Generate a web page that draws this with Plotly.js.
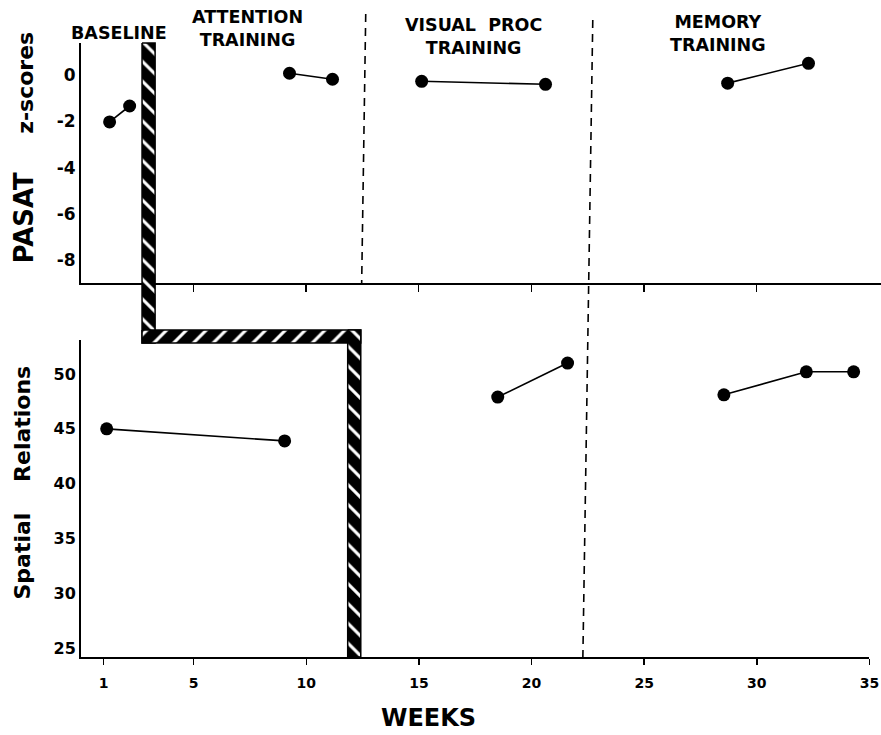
<!DOCTYPE html>
<html>
<head>
<meta charset="utf-8">
<script src="https://cdn.plot.ly/plotly-3.0.1.min.js"></script>
<style>
  html, body { margin: 0; padding: 0; background: #fff; }
  #chart { width: 881px; height: 735px; }
</style>
</head>
<body>
<div id="chart"></div>
<script>
// ---- PASAT z-scores, one pair of arrays per training phase ----
const pasatBaselineWeeks  = [1.27, 2.16];
const pasatBaselineZ      = [-2.02, -1.33];
const pasatAttentionWeeks = [9.26, 11.17];
const pasatAttentionZ     = [0.09, -0.17];
const pasatVisualWeeks    = [15.13, 20.63];
const pasatVisualZ        = [-0.26, -0.39];
const pasatMemoryWeeks    = [28.72, 32.31];
const pasatMemoryZ        = [-0.34, 0.52];

// ---- Spatial Relations scores ----
const spatialBaselineWeeks  = [1.14, 9.04];
const spatialBaselineScores = [45.0, 43.9];
const spatialVisualWeeks    = [18.5, 21.6];
const spatialVisualScores   = [47.9, 51.0];
const spatialMemoryWeeks    = [28.54, 32.2, 34.3];
const spatialMemoryScores   = [48.1, 50.2, 50.2];

// ---- tick values ----
const weekTicks    = [1, 5, 10, 15, 20, 25, 30, 35];
const topWeekTicks = [5, 10, 15, 20, 25, 30];
const pasatTicks   = [0, -2, -4, -6, -8];
const spatialTicks = [25, 30, 35, 40, 45, 50];

// ---- phase headings ----
const phaseNames = ['BASELINE', 'ATTENTION<br>TRAINING', 'VISUAL&nbsp;&nbsp;PROC<br>TRAINING', 'MEMORY<br>TRAINING'];
const phaseLabelWeeks = [1.67, 7.4, 17.44, 28.3];

// week where treatment begins for each measure (multiple-baseline step)
const treatmentStartWeeks = [3.0, 12.13];
// dashed phase boundaries: week at the top and at the bottom of each line
const phaseBoundaryTop    = [12.64, 22.72];
const phaseBoundaryBottom = [12.46, 22.28];

// ---- geometry ----
const W = 881, H = 735;
const topDomainY    = [1 - 283 / H, 1 - 43 / H];
const bottomDomainY = [1 - 657 / H, 1 - 340 / H];
const bottomDomainX = [0, 0.9855];
const stepY = 1 - 336.5 / H;        // level of the horizontal step between panels
const halfW = 0.29;                 // half thickness of the step band, in weeks
const halfH = 6.5 / H;              // half thickness of the step band, in paper units
const boundaryTopY = [1 - 14 / H, 1 - 20 / H];
const boundaryBottomY = [1 - 283 / H, 1 - 657 / H];
const labelY = [1 - 32.5 / H, 1 - 28.5 / H, 1 - 36 / H, 1 - 34 / H];

const FONT = 'DejaVu Sans, Arial, sans-serif';

function segment(x, y, xa, ya) {
  return {
    x: x, y: y, xaxis: xa, yaxis: ya,
    type: 'scatter', mode: 'lines+markers',
    line: { color: '#000', width: 1.6 },
    marker: { color: '#000', size: 13 },
    showlegend: false, hoverinfo: 'x+y', cliponaxis: false
  };
}

function band(x, y, shape) {
  return {
    x: x, y: y, xaxis: 'x3', yaxis: 'y3',
    type: 'scatter', mode: 'lines', fill: 'toself',
    fillcolor: '#000',
    fillpattern: { shape: shape, bgcolor: '#000', fgcolor: '#fff', size: 14, solidity: 0.22, fillmode: 'replace' },
    line: { color: '#000', width: 1.5 },
    showlegend: false, hoverinfo: 'skip'
  };
}

function boundary(i) {
  return {
    x: [phaseBoundaryTop[i], phaseBoundaryBottom[i]], y: [boundaryTopY[i], boundaryBottomY[i]],
    xaxis: 'x3', yaxis: 'y3', type: 'scatter', mode: 'lines',
    line: { color: '#000', width: 1.6, dash: '8px,6px' }, showlegend: false, hoverinfo: 'skip'
  };
}

const s0 = treatmentStartWeeks[0], s1 = treatmentStartWeeks[1];
const yTop = topDomainY[1], yBot = bottomDomainY[0];

const traces = [
  // top panel: PASAT
  segment(pasatBaselineWeeks, pasatBaselineZ, 'x2', 'y2'),
  segment(pasatAttentionWeeks, pasatAttentionZ, 'x2', 'y2'),
  segment(pasatVisualWeeks, pasatVisualZ, 'x2', 'y2'),
  segment(pasatMemoryWeeks, pasatMemoryZ, 'x2', 'y2'),
  // bottom panel: Spatial Relations
  segment(spatialBaselineWeeks, spatialBaselineScores, 'x', 'y'),
  segment(spatialVisualWeeks, spatialVisualScores, 'x', 'y'),
  segment(spatialMemoryWeeks, spatialMemoryScores, 'x', 'y'),
  // hatched multiple-baseline staircase
  band([s0 - halfW, s0 + halfW, s0 + halfW, s0 - halfW, s0 - halfW],
       [yTop, yTop, stepY - halfH, stepY - halfH, yTop], '\\'),
  band([s0 - halfW, s1 + halfW, s1 + halfW, s0 - halfW, s0 - halfW],
       [stepY + halfH, stepY + halfH, stepY - halfH, stepY - halfH, stepY + halfH], '/'),
  band([s1 - halfW, s1 + halfW, s1 + halfW, s1 - halfW, s1 - halfW],
       [stepY + halfH, stepY + halfH, yBot, yBot, stepY + halfH], '\\'),
  // dashed phase boundaries
  boundary(0),
  boundary(1)
];

const tickFont = (size) => ({ family: FONT, size: size, color: '#000', weight: 'bold' });

const annotations = phaseNames.map((t, i) => ({
  text: t, xref: 'x2', yref: 'paper', x: phaseLabelWeeks[i], y: labelY[i],
  xanchor: 'center', yanchor: 'middle', showarrow: false,
  font: { family: FONT, size: 17.5, color: '#000', weight: 'bold' }
}));

annotations.push(
  {
    text: '<span style="font-size:26px">PASAT</span>&nbsp;&nbsp;&nbsp;&nbsp;&nbsp;z-scores',
    xref: 'paper', yref: 'paper', x: (23 - 81) / 800, y: 1 - 147.5 / H,
    xanchor: 'center', yanchor: 'middle', textangle: -90, showarrow: false,
    font: { family: FONT, size: 22, color: '#000', weight: 'bold' }
  },
  {
    text: 'Spatial&nbsp;&nbsp;&nbsp;&nbsp;Relations',
    xref: 'paper', yref: 'paper', x: (22 - 81) / 800, y: 1 - 482.5 / H,
    xanchor: 'center', yanchor: 'middle', textangle: -90, showarrow: false,
    font: { family: FONT, size: 22, color: '#000', weight: 'bold' }
  },
  {
    text: 'WEEKS',
    xref: 'paper', yref: 'paper', x: (428 - 81) / 800, y: 1 - 718 / H,
    xanchor: 'center', yanchor: 'middle', showarrow: false,
    font: { family: FONT, size: 24, color: '#000', weight: 'bold' }
  }
);

const layout = {
  width: W, height: H,
  margin: { l: 81, r: 0, t: 0, b: 0 },
  paper_bgcolor: '#fff',
  plot_bgcolor: 'rgba(0,0,0,0)',
  font: { family: FONT, color: '#000' },
  showlegend: false,
  // bottom panel
  xaxis: {
    domain: bottomDomainX, range: [0, 35], anchor: 'y',
    tickvals: weekTicks, ticktext: weekTicks.map(String),
    ticks: 'outside', ticklen: 6, tickwidth: 1.5, tickcolor: '#000',
    showline: true, linecolor: '#000', linewidth: 2,
    showgrid: false, zeroline: false, tickfont: tickFont(14), ticklabelstandoff: 6
  },
  yaxis: {
    domain: bottomDomainY, range: [24.2, 53.1], anchor: 'x',
    tickvals: spatialTicks, ticktext: spatialTicks.map(String),
    ticks: '', showline: true, linecolor: '#000', linewidth: 2,
    showgrid: false, zeroline: false, tickfont: tickFont(16)
  },
  // top panel
  xaxis2: {
    domain: [0, 1], range: [0, 35.53], anchor: 'y2',
    tickvals: topWeekTicks, showticklabels: false,
    ticks: 'outside', ticklen: 7, tickwidth: 1.5, tickcolor: '#000',
    showline: true, linecolor: '#000', linewidth: 2,
    showgrid: false, zeroline: false
  },
  yaxis2: {
    domain: topDomainY, range: [-9, 1.4], anchor: 'x2',
    tickvals: pasatTicks, ticktext: pasatTicks.map(String),
    ticks: '', showline: true, linecolor: '#000', linewidth: 2,
    showgrid: false, zeroline: false, tickfont: tickFont(17)
  },
  // full-height overlay that carries the staircase and the phase boundaries
  xaxis3: { domain: bottomDomainX, range: [0, 35], anchor: 'y3', visible: false, fixedrange: true },
  yaxis3: { domain: [0, 1], range: [0, 1], anchor: 'x3', visible: false, fixedrange: true },
  annotations: annotations
};

Plotly.newPlot('chart', traces, layout, { displayModeBar: false, staticPlot: true });
</script>
</body>
</html>
